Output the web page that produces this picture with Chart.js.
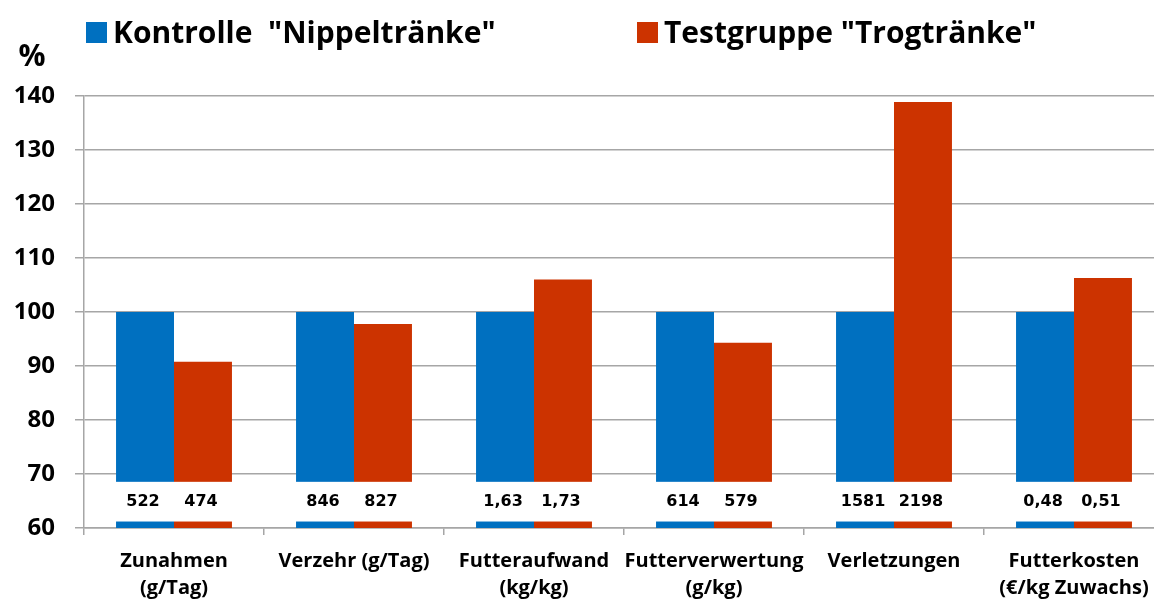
<!DOCTYPE html>
<html>
<head>
<meta charset="utf-8">
<script src="https://cdn.jsdelivr.net/npm/chart.js@4"></script>
<style>
  html, body { margin: 0; padding: 0; background: #fff; overflow: hidden; }
</style>
</head>
<body>
<canvas id="barChart" width="1170" height="599"></canvas>
<script>
const categories = [
    'Zunahmen\n(g/Tag)', 'Verzehr (g/Tag)', 'Futteraufwand\n(kg/kg)',
    'Futterverwertung\n(g/kg)', 'Verletzungen', 'Futterkosten\n(€/kg Zuwachs)'
];
const seriesNames = ['Kontrolle  "Nippeltränke"', 'Testgruppe "Trogtränke"'];
const kontrolle = [100, 100, 100, 100, 100, 100];
const testgruppe = [90.8, 97.8, 106.0, 94.3, 138.9, 106.3];
const kontrolleRaw = ['522', '846', '1,63', '614', '1581', '0,48'];
const testgruppeRaw = ['474', '827', '1,73', '579', '2198', '0,51'];
const yTicks = [60, 70, 80, 90, 100, 110, 120, 130, 140];

const colors = ['#0070C0', '#CC3300'];
const gridColor = '#a6a6a6';

// white band with the raw values, drawn over the bars
const rawBand = {
    id: 'rawBand',
    afterDatasetsDraw(chart) {
        const {ctx, chartArea, scales: {y}} = chart;
        const top = y.getPixelForValue(68.55);
        const bottom = y.getPixelForValue(61.2);
        ctx.save();
        ctx.fillStyle = '#fff';
        ctx.fillRect(chartArea.left + 1, top, chartArea.right - chartArea.left, bottom - top);
        ctx.font = 'bold 16px "DejaVu Sans"';
        ctx.fillStyle = '#000';
        ctx.textAlign = 'center';
        ctx.textBaseline = 'middle';
        const mid = (top + bottom) / 2;
        [kontrolleRaw, testgruppeRaw].forEach((raw, di) => {
            chart.getDatasetMeta(di).data.forEach((bar, i) => {
                ctx.fillText(raw[i], bar.x - 2, mid);
            });
        });
        ctx.restore();
    },
    afterDraw(chart) {
        const ctx = chart.ctx;
        ctx.save();
        // legend
        const legendX = [86, 637];
        ctx.font = 'bold 30px "Open Sans"';
        ctx.textBaseline = 'alphabetic';
        ctx.textAlign = 'left';
        seriesNames.forEach((name, i) => {
            ctx.fillStyle = colors[i];
            ctx.fillRect(legendX[i], 22, 21, 21);
            ctx.fillStyle = '#000';
            ctx.fillText(name, legendX[i] + 27, 42.5);
        });
        // unit
        ctx.font = 'bold 30px "Open Sans"';
        ctx.textAlign = 'center';
        ctx.fillText('%', 32, 66);
        ctx.restore();
    }
};

new Chart(document.getElementById('barChart'), {
    type: 'bar',
    data: {
        labels: categories.map(c => c.split('\n')),
        datasets: [
            {
                label: seriesNames[0],
                data: kontrolle,
                backgroundColor: colors[0],
                borderWidth: 0,
                categoryPercentage: 0.644,
                barPercentage: 1.0
            },
            {
                label: seriesNames[1],
                data: testgruppe,
                backgroundColor: colors[1],
                borderWidth: 0,
                categoryPercentage: 0.644,
                barPercentage: 1.0
            }
        ]
    },
    options: {
        responsive: false,
        animation: false,
        layout: {
            padding: { top: 96, right: 6, left: 0, bottom: 0 }
        },
        scales: {
            x: {
                grid: {
                    offset: true,
                    drawOnChartArea: false,
                    color: gridColor,
                    lineWidth: 1.5,
                    tickLength: 7
                },
                border: { color: gridColor, width: 1.5 },
                ticks: {
                    color: '#000',
                    padding: 13,
                    autoSkip: false,
                    maxRotation: 0,
                    font: { family: 'Open Sans', weight: 'bold', size: 20, lineHeight: 1.35 }
                },
                afterFit(scale) { scale.height = 71; }
            },
            y: {
                min: yTicks[0],
                max: yTicks[yTicks.length - 1],
                afterBuildTicks(scale) {
                    scale.ticks = yTicks.map(v => ({ value: v }));
                },
                grid: {
                    color: gridColor,
                    lineWidth: 1.5,
                    tickLength: 9
                },
                border: { color: gridColor, width: 1.5 },
                ticks: {
                    color: '#000',
                    padding: 20,
                    font: { family: 'Open Sans', weight: 'bold', size: 24 }
                },
                afterFit(scale) { scale.width = 84; }
            }
        },
        plugins: {
            legend: { display: false },
            tooltip: { enabled: false }
        }
    },
    plugins: [rawBand]
});
</script>
</body>
</html>
